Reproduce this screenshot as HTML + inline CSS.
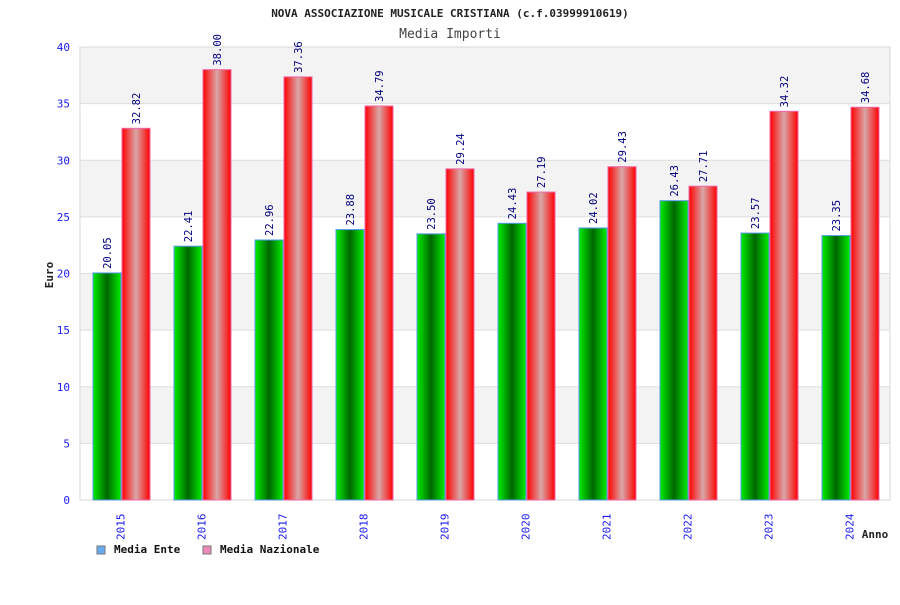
<!DOCTYPE html>
<html><head><meta charset="utf-8"><style>
body{margin:0;background:#fff;}
svg text{font-family:"DejaVu Sans Mono","Liberation Mono",monospace;}
</style></head><body>
<svg id="chart" width="900" height="600" xmlns="http://www.w3.org/2000/svg">
<defs>
<linearGradient id="gG" x1="0" x2="1" y1="0" y2="0"><stop offset="0" stop-color="#00ee00"/><stop offset="0.5" stop-color="#006600"/><stop offset="1" stop-color="#00ee00"/></linearGradient>
<linearGradient id="gR" x1="0" x2="1" y1="0" y2="0"><stop offset="0" stop-color="#ff0000"/><stop offset="0.5" stop-color="#d8a8a8"/><stop offset="1" stop-color="#ff0000"/></linearGradient>
</defs>
<text x="450" y="17" text-anchor="middle" font-size="11" font-weight="bold" fill="#222">NOVA ASSOCIAZIONE MUSICALE CRISTIANA (c.f.03999910619)</text>
<text x="450" y="38" text-anchor="middle" font-size="13" fill="#444">Media Importi</text>
<g id="plot"></g>
<text transform="translate(53,275) rotate(-90)" text-anchor="middle" font-size="11" font-weight="bold" fill="#222">Euro</text>
<text x="875" y="538" text-anchor="middle" font-size="11" font-weight="bold" fill="#222">Anno</text>
<g>
<rect x="97" y="546" width="8" height="8" fill="#66aaee" stroke="#777"/>
<text x="114" y="553" font-size="11" font-weight="bold" fill="#111">Media Ente</text>
<rect x="203" y="546" width="8" height="8" fill="#ee88bb" stroke="#777"/>
<text x="220" y="553" font-size="11" font-weight="bold" fill="#111">Media Nazionale</text>
</g>
</svg>
<script>
const categories=["2015","2016","2017","2018","2019","2020","2021","2022","2023","2024"];
const enteValues=[20.05,22.41,22.96,23.88,23.50,24.43,24.02,26.43,23.57,23.35];
const nazValues=[32.82,38.00,37.36,34.79,29.24,27.19,29.43,27.71,34.32,34.68];
const yTicks=[0,5,10,15,20,25,30,35,40];
const NS="http://www.w3.org/2000/svg";
const L=80,R=890,T=47,B=500,yMax=40;
const y=v=>B-(v/yMax)*(B-T);
const gw=(R-L)/categories.length;
const x=i=>L+i*gw;
const g=document.getElementById('plot');
function mk(t,a){const e=document.createElementNS(NS,t);for(const k in a)e.setAttribute(k,a[k]);g.appendChild(e);return e;}
for(let i=0;i<yTicks.length-1;i++){
 const band=mk('rect',{x:L,y:y(yTicks[i+1]),width:R-L,height:y(yTicks[i])-y(yTicks[i+1]),fill:(i%2)?'#f3f3f3':'#fff'});
 
 
}
yTicks.forEach(t=>{
 const ln=mk('line',{x1:L,x2:R,y1:y(t),y2:y(t),stroke:'#dddddd'});
 
 
 const tx=mk('text',{x:70,y:y(t)+4,'text-anchor':'end','font-size':11,fill:'#1a1aee'});
 tx.textContent=t;
 
 
});
const fr=mk('rect',{x:L,y:T,width:R-L,height:B-T,fill:'none',stroke:'#d8d8d8'});


categories.forEach((c,i)=>{
 const bx=x(i)+13;
 [[enteValues[i],'url(#gG)','#5599ee','bar-ente',0],[nazValues[i],'url(#gR)','#ee66aa','bar-nazionale',29]].forEach(([v,f,s,n,o])=>{
  const r=mk('rect',{x:bx+o,y:y(v),width:28,height:B-y(v),fill:f,stroke:s,'stroke-width':1});
  
  
  const lx=bx+o+14+4, ly=y(v)-4;
  const t=mk('text',{transform:`translate(${lx},${ly}) rotate(-90)`,'font-size':10.5,fill:'#000080'});
  t.textContent=v.toFixed(2);
  
  
 });
 const xt=mk('text',{transform:`translate(${x(i)+gw/2+4},${540}) rotate(-90)`,'font-size':11,fill:'#1a1aee'});
 xt.textContent=c;
 
 
});
</script>
</body></html>
